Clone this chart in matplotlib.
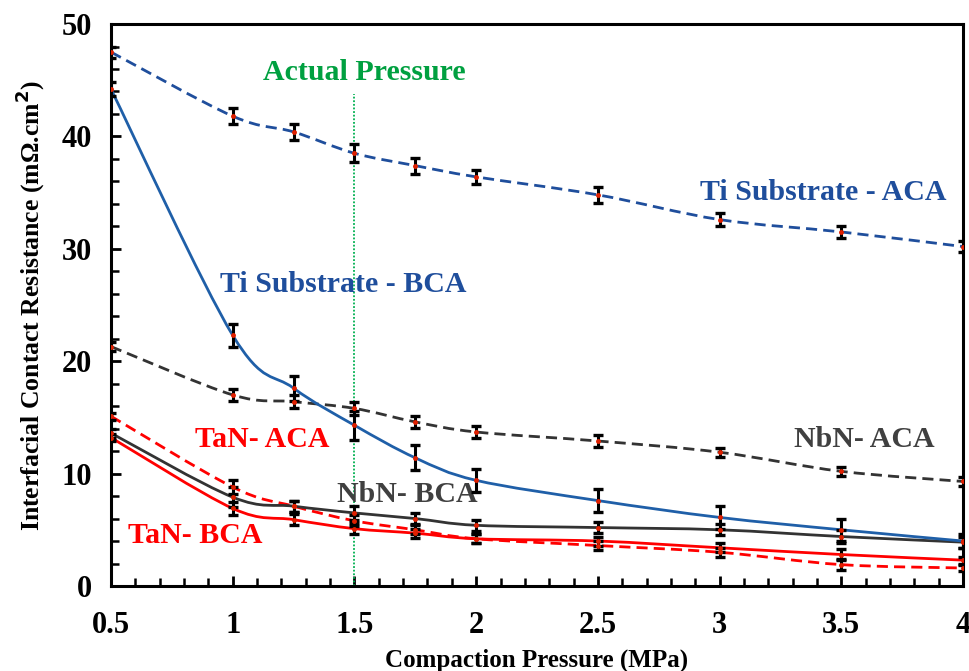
import numpy as np
import matplotlib
matplotlib.use("Agg")
import matplotlib.pyplot as plt
from matplotlib.path import Path
from matplotlib.patches import PathPatch

plt.rcParams['font.family'] = ['Liberation Serif', 'DejaVu Serif']
plt.rcParams['font.weight'] = 'bold'

pressure = [0.5, 1, 1.25, 1.5, 1.75, 2, 2.5, 3, 3.5, 4]

ti_aca = [47.5, 41.8, 40.4, 38.5, 37.4, 36.4, 34.8, 32.6, 31.5, 30.2]
ti_aca_err = [0.5, 0.7, 0.7, 0.8, 0.7, 0.6, 0.7, 0.6, 0.5, 0.5]
ti_bca = [44.2, 22.3, 17.6, 14.3, 11.4, 9.4, 7.6, 6.1, 5.0, 4.0]
ti_bca_err = [0.6, 1.0, 1.1, 1.3, 1.1, 1.0, 1.0, 1.0, 1.0, 0.6]
nbn_aca = [21.3, 17.0, 16.4, 15.8, 14.6, 13.7, 12.9, 11.9, 10.2, 9.3]
nbn_aca_err = [0.4, 0.5, 0.6, 0.6, 0.5, 0.5, 0.5, 0.4, 0.4, 0.4]
nbn_bca = [13.6, 7.9, 7.1, 6.5, 6.0, 5.4, 5.2, 5.0, 4.4, 3.9]
nbn_bca_err = [0.4, 0.9, 0.5, 0.6, 0.5, 0.5, 0.5, 0.5, 0.6, 0.5]
tan_aca = [15.1, 8.8, 7.1, 5.8, 5.0, 4.2, 3.6, 3.0, 1.9, 1.6]
tan_aca_err = [0.3, 0.6, 0.5, 0.5, 0.4, 0.4, 0.4, 0.4, 0.5, 0.3]
tan_bca = [13.2, 6.9, 5.9, 5.1, 4.7, 4.2, 4.0, 3.4, 2.8, 2.3]
tan_bca_err = [0.3, 0.6, 0.5, 0.5, 0.4, 0.4, 0.4, 0.4, 0.5, 0.3]

series = [
    (ti_aca, ti_aca_err, '#1f4e9c', '--'),
    (nbn_aca, nbn_aca_err, '#333333', '--'),
    (tan_aca, tan_aca_err, '#ff0000', '--'),
    (nbn_bca, nbn_bca_err, '#333333', '-'),
    (tan_bca, tan_bca_err, '#ff0000', '-'),
    (ti_bca, ti_bca_err, '#1f5fa8', '-'),
]

labels = [
    ("Actual Pressure", 1.54, 45.7, '#00a040'),
    ("Ti Substrate - BCA", 1.453, 26.8, '#1f4e9c'),
    ("Ti Substrate - ACA", 3.425, 35.0, '#1f4e9c'),
    ("NbN- ACA", 3.594, 13.0, '#404040'),
    ("NbN- BCA", 1.716, 8.1, '#404040'),
    ("TaN- ACA", 1.122, 13.0, '#ff0000'),
    ("TaN- BCA", 0.847, 4.5, '#ff0000'),
]

fig = plt.figure(figsize=(9.69, 6.71), dpi=100)
ax = fig.add_axes([0.1146, 0.1267, 0.8792, 0.8375])


def smooth_path(xs, ys):
    pts = np.column_stack([xs, ys]).astype(float)
    n = len(pts)
    verts = [pts[0]]
    codes = [Path.MOVETO]
    for i in range(n - 1):
        p0 = pts[i - 1] if i > 0 else pts[i]
        p1 = pts[i]
        p2 = pts[i + 1]
        p3 = pts[i + 2] if i + 2 < n else pts[i + 1]
        c1 = p1 + (p2 - p0) / 6.0
        c2 = p2 - (p3 - p1) / 6.0
        verts += [c1, c2, p2]
        codes += [Path.CURVE4] * 3
    return Path(verts, codes)


for vals, err, col, ls in series:
    patch = PathPatch(smooth_path(pressure, vals), facecolor='none', edgecolor=col,
                      lw=2.0, linestyle=(0, (4, 2.2)) if ls == '--' else '-',
                      transform=ax.transData, zorder=3, capstyle='butt')
    ax.add_patch(patch)
    ax.errorbar(pressure, vals, yerr=err, fmt='none', ecolor='black', elinewidth=2.2,
                capsize=3.5, capthick=2.4, zorder=4)
    ax.plot(pressure, vals, linestyle='none', marker='o', ms=2.5, color='#e02000', zorder=5)

ax.plot([1.5, 1.5], [0, 43.8], color='#00b050', lw=1.3, linestyle=(0, (1, 1)), zorder=2)

for text, x, y, col in labels:
    ax.text(x, y, text, color=col, fontsize=21.5, fontweight='bold', ha='center', va='center')

ax.set_xlim(0.5, 4)
ax.set_ylim(0, 50)
ax.set_xticks([0.5, 1, 1.5, 2, 2.5, 3, 3.5, 4])
ax.set_xticklabels(['0.5', '1', '1.5', '2', '2.5', '3', '3.5', '4'])
ax.set_yticks([0, 10, 20, 30, 40, 50])
ax.set_xticks(np.arange(0.5, 4.0001, 0.1), minor=True)
ax.set_yticks(np.arange(0, 50.001, 2), minor=True)
ax.tick_params(axis='x', which='major', direction='in', length=7, width=2,
               labelsize=22, pad=18)
ax.tick_params(axis='y', which='major', direction='in', length=7, width=2,
               labelsize=22, pad=14)
ax.tick_params(axis='both', which='minor', direction='in', length=6, width=1.8)
for lbl in ax.get_xticklabels() + ax.get_yticklabels():
    lbl.set_fontweight('bold')
for sp in ax.spines.values():
    sp.set_linewidth(2.2)

ax.set_xlabel('Compaction Pressure (MPa)', fontsize=18, fontweight='bold', labelpad=6)
ax.set_ylabel('Interfacial Contact Resistance (mΩ.cm$\\mathbf{^2}$)', fontsize=18.5,
              fontweight='bold', labelpad=10)

fig.savefig('out.png', dpi=100)
